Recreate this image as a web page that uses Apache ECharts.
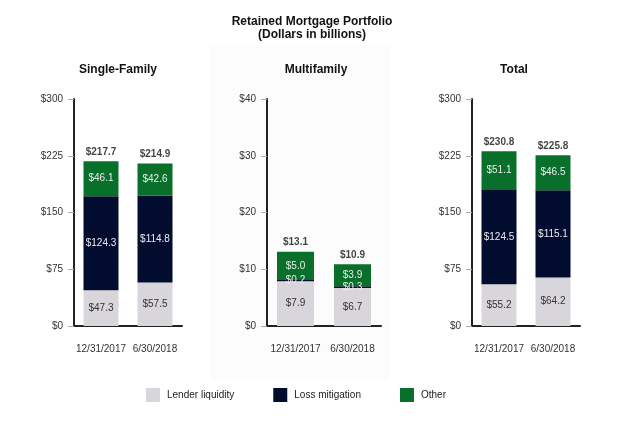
<!DOCTYPE html>
<html>
<head>
<meta charset="utf-8">
<script src="https://cdn.jsdelivr.net/npm/echarts@6/dist/echarts.min.js"></script>
<style>html,body{margin:0;padding:0;background:#fff}#c{width:624px;height:445px}</style>
</head>
<body>
<div id="c"></div>
<script>
const categories = ['12/31/2017', '6/30/2018'];
const seriesNames = ['Lender liquidity', 'Loss mitigation', 'Other'];
const panelTitles = ['Single-Family', 'Multifamily', 'Total'];

const sfLender = [47.3, 57.5];
const sfLoss = [124.3, 114.8];
const sfOther = [46.1, 42.6];
const sfTotal = [217.7, 214.9];

const mfLender = [7.9, 6.7];
const mfLoss = [0.2, 0.3];
const mfOther = [5.0, 3.9];
const mfTotal = [13.1, 10.9];

const totLender = [55.2, 64.2];
const totLoss = [124.5, 115.1];
const totOther = [51.1, 46.5];
const totTotal = [230.8, 225.8];

const yMax = [300, 40, 300];
const yInterval = [75, 10, 75];

const FONT = 'Liberation Sans, Arial, sans-serif';
const colors = ['#d8d6db', '#010c2e', '#08702a'];
const labelColors = ['#333333', '#ececec', '#ececec'];

const panels = [
  [sfLender, sfLoss, sfOther, sfTotal],
  [mfLender, mfLoss, mfOther, mfTotal],
  [totLender, totLoss, totOther, totTotal]
];
const grids = [
  {left: 74, top: 99, width: 108, height: 227},
  {left: 267, top: 99, width: 114, height: 227},
  {left: 472, top: 99, width: 108, height: 227}
];
const barWidths = [35, 37, 35];
const titleX = [113, 311, 509];

const xAxes = [], yAxes = [], series = [];
panels.forEach((p, i) => {
  xAxes.push({
    type: 'category', gridIndex: i, data: categories,
    axisLine: {lineStyle: {color: '#222', width: 2}},
    axisTick: {alignWithLabel: true, length: 5, lineStyle: {color: '#999'}},
    axisLabel: {interval: 0, color: '#333', fontSize: 10, fontFamily: FONT, margin: 18}
  });
  yAxes.push({
    type: 'value', gridIndex: i, min: 0, max: yMax[i], interval: yInterval[i],
    splitLine: {show: false},
    axisLine: {show: true, lineStyle: {color: '#222', width: 2}},
    axisTick: {show: true, length: 6, lineStyle: {color: '#aaa'}},
    axisLabel: {color: '#333', fontSize: 10, fontFamily: FONT, margin: 11, formatter: v => '$' + v}
  });
  for (let s = 0; s < 3; s++) {
    series.push({
      name: seriesNames[s], type: 'bar', stack: 'p' + i,
      xAxisIndex: i, yAxisIndex: i, barWidth: barWidths[i],
      data: p[s], itemStyle: {color: colors[s]},
      label: {show: true, position: 'inside', color: labelColors[s], fontSize: 10, fontFamily: FONT,
        formatter: d => '$' + d.value.toFixed(1)}
    });
  }
  series.push({
    type: 'scatter', xAxisIndex: i, yAxisIndex: i, symbolSize: 0,
    data: p[3], silent: true,
    label: {show: true, position: 'top', distance: 4, color: '#111', fontSize: 10, fontWeight: 'bold', fontFamily: FONT,
      formatter: d => '$' + d.value.toFixed(1)}
  });
});

const titles = [{
  text: 'Retained Mortgage Portfolio\n(Dollars in billions)', left: 'center', top: 10,
  textStyle: {fontSize: 12, fontWeight: 'bold', color: '#111', fontFamily: FONT, lineHeight: 13}
}];
panelTitles.forEach((t, i) => titles.push({
  text: t, left: titleX[i], top: 59, textAlign: 'center',
  textStyle: {fontSize: 12, fontWeight: 'bold', color: '#111', fontFamily: FONT}
}));

const chart = echarts.init(document.getElementById('c'), null, {renderer: 'canvas'});
chart.setOption({
  animation: false,
  backgroundColor: '#fff',
  title: titles,
  graphic: [{type: 'rect', z: -10, silent: true, shape: {x: 211, y: 45, width: 178, height: 335}, style: {fill: '#fcfcfc'}}],
  legend: {
    left: 141, top: 383, itemWidth: 14, itemHeight: 14, itemGap: 39,
    icon: 'rect', data: seriesNames,
    textStyle: {fontSize: 10, color: '#222', fontFamily: FONT, padding: [0, 0, 0, 2]}
  },
  grid: grids,
  xAxis: xAxes,
  yAxis: yAxes,
  series: series
});
</script>
</body>
</html>
